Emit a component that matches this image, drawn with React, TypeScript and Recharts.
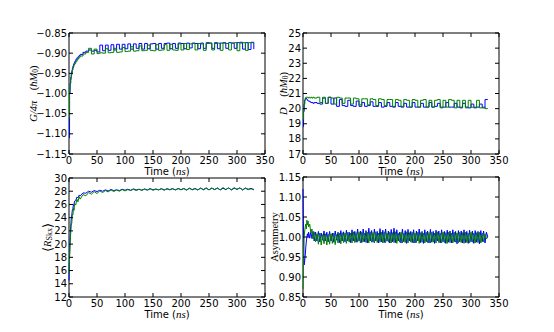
import { LineChart, Line, XAxis, YAxis, ReferenceArea } from "recharts";

// time axis (ns): fine near the start, then every 5 ns
const time = [
  0, 1, 2, 3, 4, 5, 6, 7, 8, 9, 10, 12, 14, 16, 18, 20,
  25, 30, 35, 40, 45, 50, 55,
  60, 65, 70, 75, 80, 85, 90, 95, 100,
  105, 110, 115, 120, 125, 130, 135, 140, 145, 150, 155, 160, 165, 170, 175, 180, 185, 190, 195, 200,
  205, 210, 215, 220, 225, 230, 235, 240, 245, 250, 255, 260, 265, 270, 275, 280, 285, 290, 295, 300,
  305, 310, 315, 320, 325, 330,
];

// asymmetry is sampled more densely (every 2.5 ns after 20 ns)
const timeAsym = [
  0, 1, 2, 3, 4, 5, 6, 7, 8, 9, 10, 12, 14, 16, 18, 20,
  22.5, 25, 27.5, 30, 32.5, 35, 37.5, 40, 42.5, 45,
  47.5, 50, 52.5, 55, 57.5, 60, 62.5, 65, 67.5, 70,
  72.5, 75, 77.5, 80, 82.5, 85, 87.5, 90, 92.5, 95,
  97.5, 100, 102.5, 105, 107.5, 110, 112.5, 115, 117.5, 120,
  122.5, 125, 127.5, 130, 132.5, 135, 137.5, 140, 142.5, 145,
  147.5, 150, 152.5, 155, 157.5, 160, 162.5, 165, 167.5, 170,
  172.5, 175, 177.5, 180, 182.5, 185, 187.5, 190, 192.5, 195,
  197.5, 200, 202.5, 205, 207.5, 210, 212.5, 215, 217.5, 220,
  222.5, 225, 227.5, 230, 232.5, 235, 237.5, 240, 242.5, 245,
  247.5, 250, 252.5, 255, 257.5, 260, 262.5, 265, 267.5, 270,
  272.5, 275, 277.5, 280, 282.5, 285, 287.5, 290, 292.5, 295,
  297.5, 300, 302.5, 305, 307.5, 310, 312.5, 315, 317.5, 320,
  322.5, 325, 327.5, 330,
];

const xTicks = [0, 50, 100, 150, 200, 250, 300, 350];

// G / 4pi
const gBlue = [
  -1.11, -1.0, -0.975, -0.96, -0.95, -0.943, -0.937, -0.932, -0.928, -0.924,
  -0.921, -0.916, -0.912, -0.909, -0.906, -0.903,
  -0.898, -0.895, -0.892, -0.895, -0.893, -0.897, -0.88,
  -0.894, -0.88, -0.893, -0.879, -0.892, -0.878, -0.89, -0.878, -0.889,
  -0.877, -0.89, -0.877, -0.888, -0.876, -0.89, -0.876, -0.889, -0.877, -0.876,
  -0.89, -0.876, -0.888, -0.876, -0.875, -0.889, -0.876, -0.888, -0.875, -0.876,
  -0.889, -0.875, -0.887, -0.875, -0.876, -0.889, -0.875, -0.888, -0.874, -0.875,
  -0.888, -0.874, -0.889, -0.875, -0.874, -0.888, -0.874, -0.875, -0.888, -0.874,
  -0.873, -0.89, -0.874, -0.891, -0.873, -0.89,
];
const gGreen = [
  -1.06, -0.99, -0.975, -0.965, -0.955, -0.948, -0.942, -0.937, -0.933, -0.929,
  -0.926, -0.921, -0.917, -0.913, -0.91, -0.907,
  -0.902, -0.898, -0.888, -0.902, -0.89, -0.901, -0.899,
  -0.9, -0.889, -0.899, -0.898, -0.888, -0.898, -0.897, -0.886, -0.896,
  -0.895, -0.884, -0.895, -0.894, -0.882, -0.894, -0.893, -0.88, -0.893, -0.894,
  -0.879, -0.893, -0.892, -0.879, -0.893, -0.878, -0.892, -0.893, -0.877, -0.892,
  -0.876, -0.891, -0.877, -0.876, -0.892, -0.876, -0.877, -0.893, -0.876, -0.875,
  -0.892, -0.876, -0.875, -0.893, -0.875, -0.876, -0.892, -0.875, -0.874, -0.894,
  -0.875, -0.874, -0.893, -0.874, -0.874, -0.874,
];
const gTicks = [-1.15, -1.1, -1.05, -1.0, -0.95, -0.9, -0.85];

// D
const dBlue = [
  18.8, 19.8, 20.3, 20.55, 20.65, 20.7, 20.65, 20.6, 20.55, 20.5,
  20.5, 20.45, 20.4, 20.4, 20.35, 20.4,
  20.35, 20.3, 20.7, 20.35, 20.75, 20.3, 20.7,
  20.15, 20.6, 20.2, 20.15, 20.55, 20.2, 20.15, 20.5, 20.15,
  20.4, 20.15, 20.2, 20.45, 20.15, 20.15, 20.4, 20.1, 20.15, 20.4,
  20.15, 20.1, 20.4, 20.15, 20.1, 20.35, 20.1, 20.1, 20.4, 20.1,
  20.1, 20.35, 20.1, 20.1, 20.4, 20.1, 20.15, 20.35, 20.1, 20.1,
  20.4, 20.1, 20.1, 20.35, 20.1, 20.05, 20.35, 20.1, 20.05, 20.3,
  20.05, 20.1, 20.3, 20.05, 20.6, 20.6,
];
const dGreen = [
  19.3, 19.9, 20.3, 20.55, 20.7, 20.75, 20.75, 20.75, 20.75, 20.7,
  20.75, 20.7, 20.75, 20.7, 20.75, 20.7,
  20.75, 20.4, 20.75, 20.35, 20.75, 20.7, 20.3,
  20.75, 20.7, 20.35, 20.7, 20.7, 20.3, 20.7, 20.65, 20.25,
  20.65, 20.65, 20.25, 20.65, 20.6, 20.2, 20.65, 20.6, 20.2, 20.6,
  20.6, 20.15, 20.6, 20.55, 20.15, 20.6, 20.55, 20.1, 20.6, 20.55,
  20.1, 20.55, 20.6, 20.1, 20.55, 20.1, 20.55, 20.6, 20.05, 20.55,
  20.1, 20.6, 20.55, 20.05, 20.55, 20.1, 20.55, 20.05, 20.55, 20.1,
  20.1, 20.55, 20.05, 20.1, 20.0, 20.0,
];
const dTicks = [17, 18, 19, 20, 21, 22, 23, 24, 25];

// <R_Skx>
const rBlue = [
  14.5, 18.5, 21.0, 22.6, 23.8, 24.4, 25.2, 25.4, 26.0, 26.0,
  26.5, 26.6, 27.1, 27.0, 27.4, 27.3,
  27.75, 27.7, 28.0, 27.85, 28.1, 27.95, 28.15,
  28.0, 28.2, 28.05, 28.25, 28.1, 28.2, 28.1, 28.3, 28.15,
  28.3, 28.15, 28.35, 28.2, 28.3, 28.15, 28.35, 28.2, 28.4, 28.2,
  28.35, 28.2, 28.4, 28.2, 28.35, 28.25, 28.4, 28.2, 28.4, 28.25,
  28.4, 28.2, 28.45, 28.25, 28.4, 28.2, 28.45, 28.25, 28.5, 28.2,
  28.45, 28.25, 28.5, 28.2, 28.45, 28.25, 28.5, 28.2, 28.45, 28.3,
  28.5, 28.2, 28.45, 28.25, 28.45, 28.2,
];
const rGreen = [
  15.5, 17.8, 20.0, 21.6, 22.8, 23.2, 24.5, 24.4, 25.5, 25.1,
  26.1, 25.9, 26.8, 26.4, 27.2, 26.8,
  27.5, 27.3, 27.8, 27.55, 27.95, 27.65, 28.05,
  27.8, 28.1, 27.9, 28.2, 27.95, 28.2, 28.0, 28.25, 28.05,
  28.25, 28.1, 28.3, 28.1, 28.3, 28.15, 28.3, 28.15, 28.35, 28.15,
  28.3, 28.2, 28.35, 28.15, 28.4, 28.2, 28.35, 28.2, 28.4, 28.2,
  28.4, 28.15, 28.45, 28.2, 28.4, 28.2, 28.5, 28.2, 28.45, 28.2,
  28.5, 28.25, 28.45, 28.2, 28.55, 28.25, 28.5, 28.2, 28.55, 28.25,
  28.5, 28.2, 28.5, 28.3, 28.35, 28.3,
];
const rTicks = [12, 14, 16, 18, 20, 22, 24, 26, 28, 30];

// Asymmetry
const aBlue = [
  1.12, 1.0, 0.93, 0.94, 0.955, 0.975, 0.99, 1.0, 1.008, 0.998,
  1.012, 0.997, 1.013, 0.996, 1.014, 0.99,
  1.012, 0.99, 1.014, 0.988, 1.01, 0.992, 1.015, 0.99, 1.012, 0.988,
  1.014, 0.99, 1.01, 0.987, 1.015, 0.992, 1.012, 0.986, 1.016, 0.99,
  1.013, 0.988, 1.017, 0.99, 1.012, 0.986, 1.018, 0.99, 1.014, 0.987,
  1.02, 0.99, 1.015, 0.986, 1.02, 0.988, 1.016, 0.985, 1.022, 0.99,
  1.016, 0.987, 1.02, 0.99, 1.014, 0.985, 1.021, 0.988, 1.017, 0.986,
  1.02, 0.99, 1.015, 0.985, 1.019, 0.988, 1.022, 0.986, 1.018, 0.99,
  1.012, 0.985, 1.02, 0.988, 1.016, 0.984, 1.019, 0.99, 1.014, 0.986,
  1.018, 0.985, 1.015, 0.99, 1.02, 0.986, 1.014, 0.984, 1.018, 0.988,
  1.015, 0.985, 1.019, 0.987, 1.014, 0.984, 1.017, 0.99, 1.015, 0.985,
  1.018, 0.988, 1.014, 0.984, 1.017, 0.987, 1.015, 0.985, 1.018, 0.988,
  1.014, 0.983, 1.016, 0.988, 1.015, 0.985, 1.018, 0.986, 1.014, 0.984,
  1.017, 0.988, 1.015, 0.984, 1.016, 0.987, 1.014, 0.983, 1.016, 0.988,
  1.015, 0.985, 1.012, 1.0,
];
const aGreen = [
  0.87, 0.96, 1.0, 1.015, 1.025, 1.032, 1.02, 1.042, 1.03, 1.04,
  1.025, 1.032, 1.01, 1.02, 0.995, 1.013,
  0.988, 1.008, 0.982, 1.01, 0.98, 1.006, 0.983, 1.008, 0.98, 1.007,
  0.982, 1.008, 0.984, 1.01, 0.981, 1.006, 0.985, 1.01, 0.983, 1.011,
  0.986, 1.01, 0.984, 1.012, 0.987, 1.01, 0.985, 1.013, 0.986, 1.011,
  0.987, 1.012, 0.985, 1.013, 0.988, 1.01, 0.986, 1.012, 0.985, 1.013,
  0.987, 1.011, 0.985, 1.013, 0.986, 1.01, 0.987, 1.012, 0.985, 1.013,
  0.986, 1.01, 0.987, 1.012, 0.985, 1.011, 0.986, 1.013, 0.984, 1.01,
  0.987, 1.012, 0.985, 1.01, 0.986, 1.013, 0.985, 1.011, 0.987, 1.012,
  0.985, 1.01, 0.986, 1.012, 0.984, 1.011, 0.987, 1.01, 0.985, 1.012,
  0.986, 1.011, 0.985, 1.012, 0.987, 1.01, 0.985, 1.013, 0.986, 1.01,
  0.985, 1.012, 0.986, 1.011, 0.984, 1.012, 0.986, 1.01, 0.985, 1.012,
  0.987, 1.01, 0.985, 1.012, 0.986, 1.011, 0.984, 1.012, 0.986, 1.01,
  0.985, 1.012, 0.987, 1.01, 0.985, 1.011, 0.986, 1.012, 0.985, 1.01,
  0.988, 1.008, 0.995, 1.0,
];
const aTicks = [0.85, 0.9, 0.95, 1.0, 1.05, 1.1, 1.15];

const BLUE = "#0000ff";
const GREEN = "#008000";
const SANS = "DejaVu Sans, sans-serif";
const SERIF = "Liberation Serif, serif";
const PW = 196;
const TICK = 4;

const minus = (s: string) => s.replace("-", "\u2212");

type PanelProps = {
  left: number;
  top: number;
  height: number;
  ts: number[];
  blue: number[];
  green: number[];
  yTicks: number[];
  fmt: (v: number) => string;
  curve: "linear" | "stepAfter";
  title: React.ReactNode;
  titleX: number;
};

function Panel({ left, top, height, ts, blue, green, yTicks, fmt, curve, title, titleX }: PanelProps) {
  const data = ts.map((t, i) => ({ t, b: blue[i], g: green[i] }));
  const right = left + PW;
  const bottom = top + height;
  const yMin = yTicks[0];
  const yMax = yTicks[yTicks.length - 1];
  const midY = top + height / 2;

  const xTick = (p: any) => (
    <g>
      <line x1={p.x} x2={p.x} y1={bottom} y2={bottom - TICK} stroke="#000" />
      <line x1={p.x} x2={p.x} y1={top} y2={top + TICK} stroke="#000" />
      <text x={p.x} y={bottom + 10} textAnchor="middle" fontFamily={SANS} fontSize={10} fill="#000">
        {p.payload.value}
      </text>
    </g>
  );

  const yTick = (p: any) => (
    <g>
      <line x1={left} x2={left + TICK} y1={p.y} y2={p.y} stroke="#000" />
      <line x1={right - TICK} x2={right} y1={p.y} y2={p.y} stroke="#000" />
      <text x={left - 2} y={p.y + 3.6} textAnchor="end" fontFamily={SANS} fontSize={10} fill="#000">
        {fmt(p.payload.value)}
      </text>
    </g>
  );

  return (
    <div style={{ position: "absolute", left: 0, top: 0 }}>
      <LineChart
        width={554}
        height={332}
        data={data}
        margin={{ top, left: left - 40, right: 554 - right, bottom: 332 - bottom - 30 }}
      >
        <XAxis
          type="number"
          dataKey="t"
          domain={[0, 350]}
          ticks={xTicks}
          interval={0}
          height={30}
          axisLine={false}
          tickLine={false}
          tick={xTick}
          label={{
            content: () => (
              <text x={left + PW / 2} y={bottom + 21} textAnchor="middle" fontFamily={SANS} fontSize={10} fill="#000">
                Time (<tspan fontFamily={SERIF} fontStyle="italic" fontSize={11}>ns</tspan>)
              </text>
            ),
          }}
        />
        <YAxis
          type="number"
          domain={[yMin, yMax]}
          ticks={yTicks}
          interval={0}
          width={40}
          axisLine={false}
          tickLine={false}
          tick={yTick}
          label={{
            content: () => (
              <text
                x={titleX}
                y={midY}
                transform={`rotate(-90 ${titleX} ${midY})`}
                textAnchor="middle"
                dominantBaseline="central"
                fontFamily={SERIF}
                fontSize={10.5}
                fill="#000"
              >
                {title}
              </text>
            ),
          }}
        />
        <ReferenceArea x1={0} x2={350} y1={yMin} y2={yMax} fill="none" stroke="#000" strokeWidth={1} />
        <Line type={curve} dataKey="b" stroke={BLUE} strokeWidth={1} dot={false} activeDot={false} isAnimationActive={false} />
        <Line type={curve} dataKey="g" stroke={GREEN} strokeWidth={1} dot={false} activeDot={false} isAnimationActive={false} />
      </LineChart>
    </div>
  );
}

export default function App() {
  return (
    <div style={{ position: "absolute", left: 0, top: 0, width: 554, height: 332, background: "#fff" }}>
      <Panel
        left={69}
        top={33}
        height={121}
        ts={time}
        blue={gBlue}
        green={gGreen}
        yTicks={gTicks}
        fmt={(v) => minus(v.toFixed(2))}
        curve="stepAfter"
        titleX={33}
        title={
          <>
            <tspan fontStyle="italic">G/4π</tspan>
            <tspan>{"\u2002\u2002("}</tspan>
            <tspan fontStyle="italic">ħM</tspan>
            <tspan fontSize={7.5} dy={2}>0</tspan>
            <tspan dy={-2}>)</tspan>
          </>
        }
      />
      <Panel
        left={303}
        top={33}
        height={121}
        ts={time}
        blue={dBlue}
        green={dGreen}
        yTicks={dTicks}
        fmt={(v) => String(v)}
        curve="stepAfter"
        titleX={283}
        title={
          <>
            <tspan fontStyle="italic">D</tspan>
            <tspan>{"\u2002\u2002("}</tspan>
            <tspan fontStyle="italic">ħM</tspan>
            <tspan fontSize={7.5} dy={2}>0</tspan>
            <tspan dy={-2}>)</tspan>
          </>
        }
      />
      <Panel
        left={69}
        top={178}
        height={119}
        ts={time}
        blue={rBlue}
        green={rGreen}
        yTicks={rTicks}
        fmt={(v) => String(v)}
        curve="linear"
        titleX={47}
        title={
          <>
            <tspan fontSize={13}>⟨</tspan>
            <tspan fontStyle="italic">R</tspan>
            <tspan fontSize={8} dy={2}>Skx</tspan>
            <tspan fontSize={13} dy={-2}>⟩</tspan>
          </>
        }
      />
      <Panel
        left={303}
        top={177}
        height={120}
        ts={timeAsym}
        blue={aBlue}
        green={aGreen}
        yTicks={aTicks}
        fmt={(v) => v.toFixed(2)}
        curve="linear"
        titleX={274}
        title={<tspan>Asymmetry</tspan>}
      />
    </div>
  );
}
